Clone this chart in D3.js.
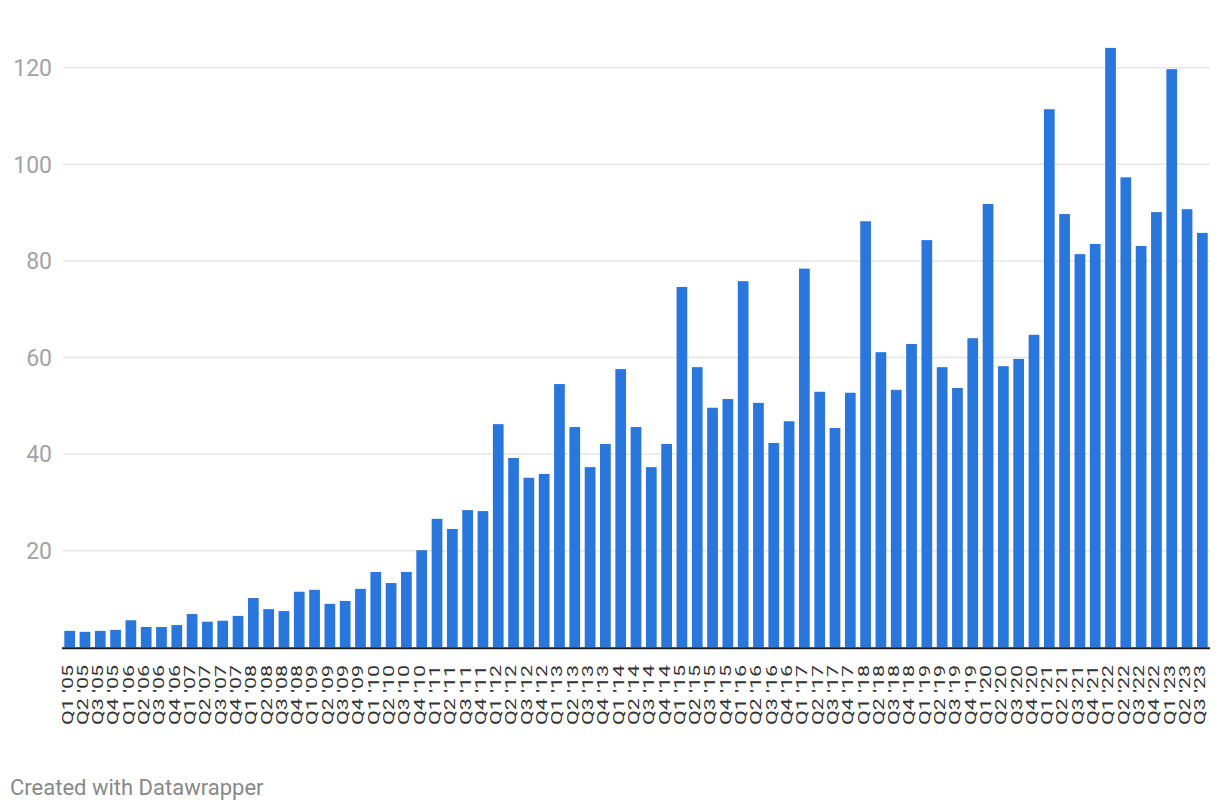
<!DOCTYPE html>
<html>
<head>
<meta charset="utf-8">
<script src="https://cdn.jsdelivr.net/npm/d3@7"></script>
<style>
  html, body { margin: 0; padding: 0; background: #fff; }
  svg { display: block; font-family: Roboto, "Noto Sans", sans-serif; }
</style>
</head>
<body>
<svg id="chart" width="1220" height="812"></svg>
<script>
const years = ["05","06","07","08","09","10","11","12","13","14","15","16","17","18","19","20","21","22","23"];
const quarters = ["Q1","Q2","Q3","Q4"];
const categories = [];
years.forEach(y => quarters.forEach(q => { if (!(y === "23" && q === "Q4")) categories.push(q + " '" + y); }));

const values = [
  3.4, 3.2, 3.4, 3.6,
  5.6, 4.2, 4.2, 4.6,
  6.9, 5.3, 5.5, 6.5,
  10.2, 7.9, 7.5, 11.5,
  11.9, 9.0, 9.6, 12.1,
  15.6, 13.3, 15.6, 20.1,
  26.6, 24.5, 28.4, 28.2,
  46.2, 39.2, 35.1, 35.9,
  54.5, 45.6, 37.3, 42.1,
  57.6, 45.6, 37.3, 42.1,
  74.6, 58.0, 49.6, 51.4,
  75.8, 50.6, 42.3, 46.8,
  78.4, 52.9, 45.4, 52.7,
  88.2, 61.1, 53.3, 62.8,
  84.3, 58.0, 53.7, 64.0,
  91.8, 58.2, 59.7, 64.7,
  111.4, 89.7, 81.4, 83.5,
  124.1, 97.3, 83.1, 90.1,
  119.7, 90.7, 85.8
];

const yTicks = [20, 40, 60, 80, 100, 120];

const svg = d3.select("#chart");
const left = 62, right = 1210;
const x = d3.scaleBand().domain(categories).range([left, right]).paddingInner(0.3).paddingOuter(0.15);
const y = d3.scaleLinear().domain([0, 120]).range([647.3, 67.7]);

// gridlines
svg.append("g").selectAll("line").data(yTicks).join("line")
  .attr("x1", 63).attr("x2", right)
  .attr("y1", d => y(d)).attr("y2", d => y(d))
  .attr("stroke", "#e6e6e6").attr("stroke-width", 1.5);

// y labels
svg.append("g").selectAll("text").data(yTicks).join("text")
  .attr("x", 52).attr("y", d => y(d)).attr("dy", "0.36em")
  .attr("text-anchor", "end").attr("fill", "#a3a3a3")
  .attr("font-size", 23).text(d => d);

// bars
svg.append("g").selectAll("rect").data(values).join("rect")
  .attr("x", (d, i) => x(categories[i]))
  .attr("width", x.bandwidth())
  .attr("y", d => y(d))
  .attr("height", d => y(0) - y(d))
  .attr("fill", "#2976dd");

// baseline
svg.append("line").attr("x1", left).attr("x2", right)
  .attr("y1", y(0) + 1).attr("y2", y(0) + 1)
  .attr("stroke", "#1a1a1a").attr("stroke-width", 2);

// x labels
svg.append("g").selectAll("text").data(categories).join("text")
  .attr("transform", d => `translate(${x(d) + x.bandwidth() / 2},665) rotate(-90) scale(1.48,1)`)
  .attr("dy", "0.2em")
  .attr("text-anchor", "end").attr("fill", "#333")
  .attr("font-size", 14.5).text(d => d);

// footer
svg.append("text").attr("x", 10).attr("y", 795)
  .attr("fill", "#888").attr("font-size", 22)
  .text("Created with Datawrapper");
</script>
</body>
</html>
